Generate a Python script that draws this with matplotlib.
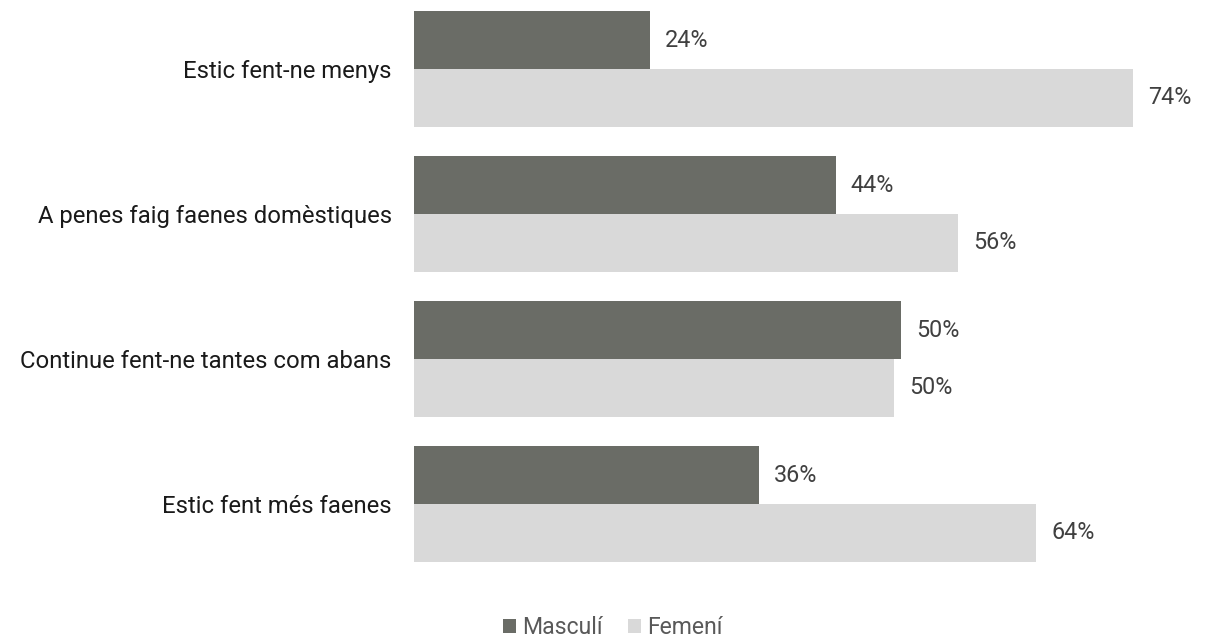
import matplotlib
matplotlib.use("Agg")
import matplotlib.pyplot as plt
import numpy as np
from matplotlib.patches import Patch

categories = ["Estic fent-ne menys", "A penes faig faenes domèstiques",
              "Continue fent-ne tantes com abans", "Estic fent més faenes"]
masculi = [24.3, 43.4, 50.1, 35.5]
femeni = [74.0, 56.0, 49.4, 64.0]
masculi_labels = ["24%", "44%", "50%", "36%"]
femeni_labels = ["74%", "56%", "50%", "64%"]
series_names = ["Masculí", "Femení"]

W, H = 1207, 638
fig = plt.figure(figsize=(W / 100, H / 100), dpi=100)
plt.rcParams['font.family'] = ['Roboto', 'DejaVu Sans']

# axes in pixel coordinates
left_px, right_px = 414, 1200
top_px, bot_px = 0, 590
ax = fig.add_axes([left_px / W, 1 - bot_px / H, (right_px - left_px) / W, (bot_px - top_px) / H])

px_per_unit = 9.72
xmax = (right_px - left_px) / px_per_unit
group_px = 145.0
first_center = 69.0
ylo = (top_px - first_center) / group_px
yhi = (bot_px - first_center) / group_px
ax.set_xlim(0, xmax)
ax.set_ylim(yhi, ylo)

c_dark = "#6a6c66"
c_light = "#d9d9d9"
h = 0.397
y = np.arange(len(categories))
ax.barh(y - h / 2, masculi, height=h, color=c_dark, edgecolor="none")
ax.barh(y + h / 2, femeni, height=h, color=c_light, edgecolor="none")

off = 15 / px_per_unit
lab_color = "#404040"
fs_lab = 16.8
fs_cat = 17.2
for i in range(len(categories)):
    ax.text(masculi[i] + off, y[i] - h / 2, masculi_labels[i], va="center", ha="left",
            fontsize=fs_lab, color=lab_color)
    ax.text(femeni[i] + off, y[i] + h / 2, femeni_labels[i], va="center", ha="left",
            fontsize=fs_lab, color=lab_color)

ax.set_yticks(y)
ax.set_yticklabels(categories, fontsize=fs_cat, color="#1a1a1a")
ax.tick_params(axis="y", length=0, pad=16)
ax.set_xticks([])
for s in ax.spines.values():
    s.set_visible(False)

handles = [Patch(facecolor=c_dark, label=series_names[0]),
           Patch(facecolor=c_light, label=series_names[1])]
fs_leg = 16.6
leg = fig.legend(handles=handles, loc="center", bbox_to_anchor=(0.5 * (503 + 722) / W, 1 - 628 / H),
                 ncol=2, frameon=False, fontsize=fs_leg, handlelength=0.57, handleheight=0.57,
                 handletextpad=0.26, columnspacing=1.1, borderpad=0)
for t in leg.get_texts():
    t.set_color("#595959")

fig.savefig("out.png", dpi=100)
